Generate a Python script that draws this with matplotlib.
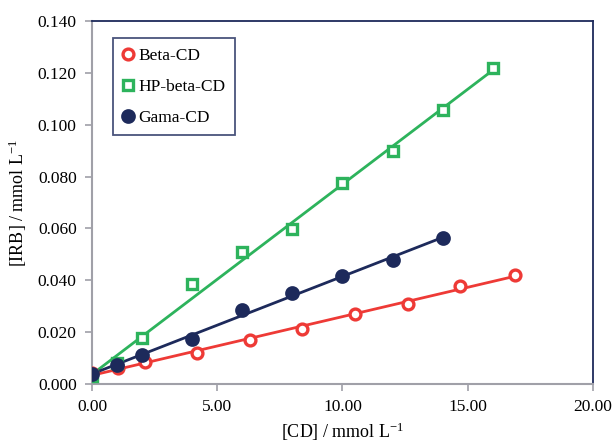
import numpy as np
import matplotlib
matplotlib.use("Agg")
import matplotlib.pyplot as plt
from matplotlib.ticker import FormatStrFormatter

plt.rcParams['font.family'] = ['Liberation Serif', 'DejaVu Serif']
plt.rcParams['mathtext.fontset'] = 'stix'

# data
beta_x = [0.0, 1.05, 2.1, 4.2, 6.3, 8.4, 10.5, 12.6, 14.7, 16.9]
beta_y = [0.0044, 0.0061, 0.0084, 0.0120, 0.0171, 0.0211, 0.0271, 0.0310, 0.0378, 0.0422]

hp_x = [0, 1, 2, 4, 6, 8, 10, 12, 14, 16]
hp_y = [0.0031, 0.0080, 0.0176, 0.0384, 0.0508, 0.0596, 0.0774, 0.0900, 0.1055, 0.1220]

gama_x = [0, 1, 2, 4, 6, 8, 10, 12, 14]
gama_y = [0.0040, 0.0074, 0.0110, 0.0174, 0.0285, 0.0352, 0.0417, 0.0478, 0.0564]

red = '#EE3A36'
green = '#2DB35C'
navy = '#1D2A5B'

fig = plt.figure(figsize=(6.14, 4.44), dpi=100)
ax = fig.add_axes([0.1498, 0.1351, 0.8160, 0.8176])

series = [
    (beta_x, beta_y, red, 'o', 'none', 'Beta-CD', 7.8),
    (hp_x, hp_y, green, 's', 'none', 'HP-beta-CD', 7.8),
    (gama_x, gama_y, navy, 'o', navy, 'Gama-CD', 8.2),
]
for x, y, c, m, fc, lab, ms in series:
    x = np.array(x)
    # linear trendline over the data range
    k, b = np.polyfit(x, y, 1)
    xs = np.array([x.min(), x.max()])
    ax.plot(xs, k * xs + b, color=c, lw=2.0, zorder=2)
    ax.plot(x, y, ls='none', marker=m, ms=ms, mfc=fc if fc != 'none' else 'white',
            mec=c, mew=2.4, label=lab, zorder=3)

ax.set_xlim(0, 20)
ax.set_ylim(0, 0.14)
ax.set_xticks(np.arange(0, 20.1, 5))
ax.set_yticks(np.arange(0, 0.1401, 0.02))
ax.xaxis.set_major_formatter(FormatStrFormatter('%.2f'))
ax.yaxis.set_major_formatter(FormatStrFormatter('%.3f'))
ax.tick_params(direction='out', length=5, width=1.2, color='#A0A0A8', labelsize=12.5, pad=6)

for s in ['top', 'right']:
    ax.spines[s].set_color(navy)
    ax.spines[s].set_linewidth(1.3)
for s in ['left', 'bottom']:
    ax.spines[s].set_color('#A0A0A8')
    ax.spines[s].set_linewidth(1.5)

ax.set_xlabel('[CD] / mmol L$^{\\mathregular{-1}}$', fontsize=13, labelpad=4)
ax.set_ylabel('[IRB] / mmol L$^{\\mathregular{-1}}$', fontsize=13, labelpad=6)

leg = ax.legend(loc='upper left', bbox_to_anchor=(0.042, 0.953), fontsize=12.5,
                frameon=True, fancybox=False, handlelength=0.6, handletextpad=0.3,
                borderpad=0.55, labelspacing=0.85, borderaxespad=0)
leg.get_frame().set_edgecolor(navy)
leg.get_frame().set_linewidth(1.3)

fig.savefig('out.png', dpi=100)
